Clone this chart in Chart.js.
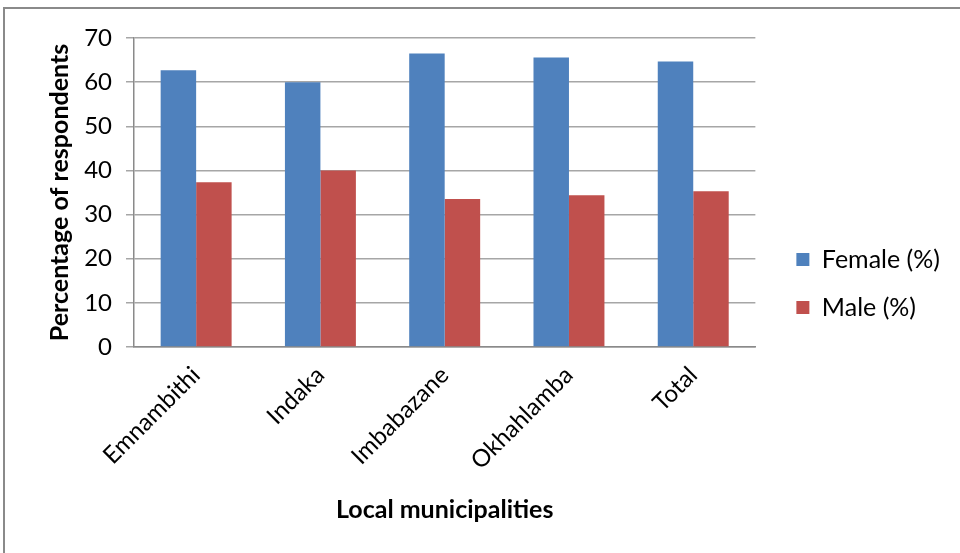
<!DOCTYPE html>
<html>
<head>
<meta charset="utf-8">
<title>Respondents by gender</title>
<script src="https://cdn.jsdelivr.net/npm/chart.js@4.4.1/dist/chart.umd.min.js"></script>
<style>
  html, body { margin: 0; padding: 0; background: #fff; }
  #wrap { position: relative; width: 960px; height: 553px; overflow: hidden; }
  #wrap canvas { position: absolute; left: 0; top: 0; }
  /* outer chart frame, only the top and left edges fall inside the page */
  #frame { position: absolute; left: 3px; top: 7px; width: 990px; height: 590px;
           border-left: 2px solid #8a8a8a; border-top: 2px solid #8a8a8a; pointer-events: none; }
</style>
</head>
<body>
<div id="wrap">
  <canvas id="myChart" width="960" height="553"></canvas>
  <div id="frame"></div>
</div>
<script>
// categories and series
const municipalities = ['Emnambithi', 'Indaka', 'Imbabazane', 'Okhahlamba', 'Total'];
const femalePct = [62.7, 60.0, 66.5, 65.6, 64.7];
const malePct = [37.3, 40.0, 33.5, 34.4, 35.3];
const yMin = 0, yMax = 70, yStep = 10;

const FONT = 'Lato, "Open Sans", sans-serif';
const PAD = { left: 41, top: 38, right: 10, bottom: 24 };

function drawChart() {
    var ctx = document.getElementById('myChart').getContext('2d');
    return new Chart(ctx, {
        type: 'bar',
        data: {
            labels: municipalities,
            datasets: [
                {
                    label: 'Female (%)',
                    backgroundColor: '#4f81bd',
                    categoryPercentage: 0.571,
                    barPercentage: 1.0,
                    data: femalePct
                },
                {
                    label: 'Male (%)',
                    backgroundColor: '#c0504d',
                    categoryPercentage: 0.571,
                    barPercentage: 1.0,
                    data: malePct
                }
            ]
        },
        options: {
            responsive: false,
            animation: false,
            devicePixelRatio: 1,
            layout: { padding: PAD },
            plugins: {
                tooltip: { enabled: false },
                legend: {
                    position: 'right',
                    align: 'center',
                    maxWidth: 300,
                    labels: {
                        boxWidth: 13,
                        boxHeight: 13,
                        padding: 23,
                        color: '#000',
                        font: { family: FONT, size: 25 }
                    }
                }
            },
            scales: {
                x: {
                    grid: { display: false, drawTicks: false },
                    border: { display: true, color: '#8a8a8a', width: 1.5 },
                    ticks: {
                        color: '#000',
                        minRotation: 45,
                        maxRotation: 45,
                        padding: 14,
                        font: { family: FONT, size: 24 }
                    },
                    title: {
                        display: true,
                        text: 'Local municipalities',
                        color: '#000',
                        font: { family: FONT, size: 25, weight: 'bold' }
                    },
                    afterFit: function (scale) { scale.height = 553 - PAD.bottom - 347; }
                },
                y: {
                    min: yMin,
                    max: yMax,
                    ticks: {
                        stepSize: yStep,
                        color: '#000',
                        padding: 14,
                        font: { family: FONT, size: 24 }
                    },
                    grid: { color: '#a6a6a6', lineWidth: 1.5, tickLength: 8 },
                    border: { display: true, color: '#8a8a8a', width: 1.5 },
                    title: {
                        display: true,
                        text: 'Percentage of respondents',
                        color: '#000',
                        font: { family: FONT, size: 25, weight: 'bold' }
                    },
                    afterFit: function (scale) { scale.width = 134 - PAD.left; }
                },
                // empty right-hand axis, only keeps a gap between the plot and the legend
                gap: {
                    position: 'right',
                    display: true,
                    grid: { display: false, drawTicks: false },
                    border: { display: false },
                    ticks: { display: false },
                    afterFit: function (scale) { scale.width = 18; }
                }
            }
        }
    });
}

// measure text only once Lato is ready
Promise.all([
    document.fonts.load('24px Lato'),
    document.fonts.load('bold 24px Lato')
]).then(drawChart, drawChart);
</script>
</body>
</html>
